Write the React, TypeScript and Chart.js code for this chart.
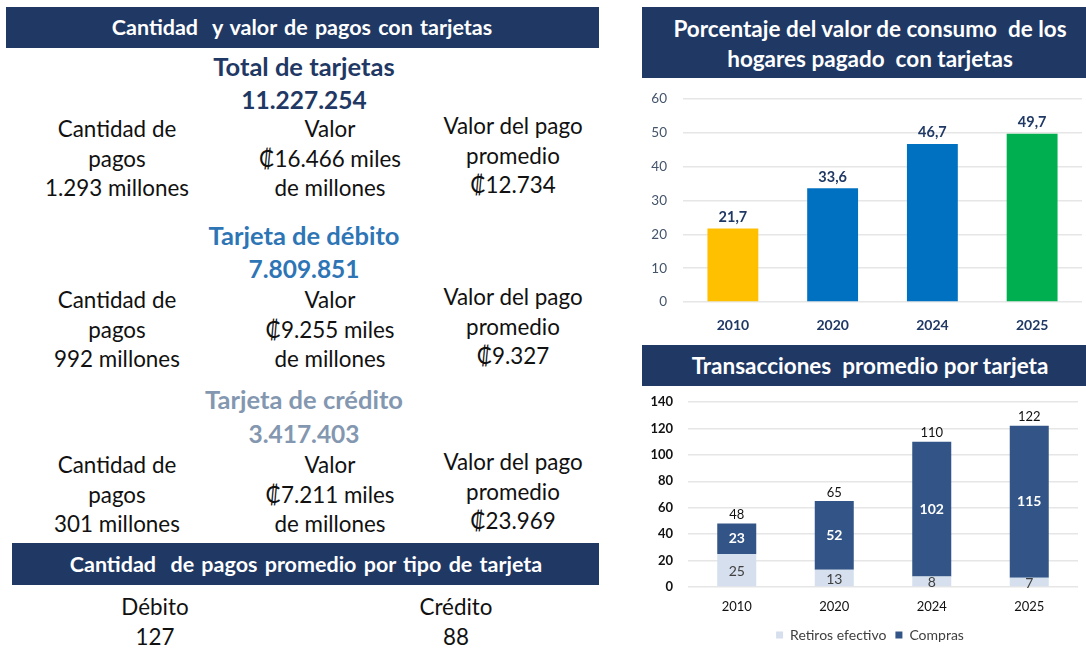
import React, { useEffect, useRef } from 'react';
import { Chart, registerables } from 'chart.js';
Chart.register(...registerables);

// ---------- Data ----------
const years = ['2010', '2020', '2024', '2025'];
const pctValues = [21.7, 33.6, 46.7, 49.7];
const pctColors = ['#FFC000', '#0070C0', '#0070C0', '#00B050'];
const retiros = [25, 13, 8, 7];
const compras = [23, 52, 102, 115];
const totals = [48, 65, 110, 122];

const sectionTitles = ['Total de tarjetas', 'Tarjeta de débito', 'Tarjeta de crédito'];
const sectionCounts = ['11.227.254', '7.809.851', '3.417.403'];
const sectionColors = ['#1F3864', '#2E75B6', '#8497B0'];
const sectionPagos = ['1.293 millones', '992 millones', '301 millones'];
const sectionValor = ['₡16.466 miles', '₡9.255 miles', '₡7.211 miles'];
const sectionPromedio = ['₡12.734', '₡9.327', '₡23.969'];
const tipoLabels = ['Débito', 'Crédito'];
const tipoValues = ['127', '88'];

const FONT = "Lato, 'Open Sans', 'DejaVu Sans', sans-serif";
const NAVY = '#1F3864';

// ---------- Layout helpers ----------
const sectionTitleY = [67, 236, 400];
const sectionCountY = [100, 269, 434];
const sectionRowY = [129, 300, 465];

function T(props: { x: number; y: number; text: string; size: number; bold?: boolean; color?: string; ws?: number }) {
  const lh = props.size * 1.3;
  return (
    <div
      style={{
        position: 'absolute',
        left: props.x - 300,
        width: 600,
        top: props.y - lh / 2,
        height: lh,
        lineHeight: lh + 'px',
        fontSize: props.size,
        fontWeight: props.bold ? 700 : 400,
        color: props.color || '#111',
        textAlign: 'center',
        whiteSpace: 'pre',
        wordSpacing: props.ws || 0,
        fontFamily: FONT,
      }}
    >
      {props.text}
    </div>
  );
}

function Bar(props: { left: number; top: number; width: number; height: number }) {
  return (
    <div
      style={{
        position: 'absolute',
        left: props.left,
        top: props.top,
        width: props.width,
        height: props.height,
        background: NAVY,
      }}
    />
  );
}

const labelPlugin1 = {
  id: 'labels1',
  afterDatasetsDraw(chart: any) {
    const ctx = chart.ctx;
    const meta = chart.getDatasetMeta(0);
    ctx.save();
    ctx.font = `bold 14.5px ${FONT}`;
    ctx.fillStyle = NAVY;
    ctx.textAlign = 'center';
    ctx.textBaseline = 'bottom';
    meta.data.forEach((el: any, i: number) => {
      ctx.fillText(String(pctValues[i]).replace('.', ','), el.x, el.y - 4);
    });
    ctx.restore();
  },
};

const labelPlugin2 = {
  id: 'labels2',
  afterDatasetsDraw(chart: any) {
    const ctx = chart.ctx;
    const m0 = chart.getDatasetMeta(0);
    const m1 = chart.getDatasetMeta(1);
    ctx.save();
    ctx.textAlign = 'center';
    ctx.textBaseline = 'middle';
    m0.data.forEach((el: any, i: number) => {
      ctx.font = `14px ${FONT}`;
      ctx.fillStyle = '#404040';
      ctx.fillText(String(retiros[i]), el.x, (el.y + el.base) / 2 + 1);
    });
    m1.data.forEach((el: any, i: number) => {
      ctx.font = `bold 14px ${FONT}`;
      ctx.fillStyle = '#FFFFFF';
      ctx.fillText(String(compras[i]), el.x, (el.y + el.base) / 2);
      ctx.font = `13px ${FONT}`;
      ctx.fillStyle = '#111111';
      ctx.textBaseline = 'bottom';
      ctx.fillText(String(totals[i]), el.x, el.y - 2);
      ctx.textBaseline = 'middle';
    });
    ctx.restore();
  },
};

const legendShift = {
  id: 'legendShift',
  afterLayout(chart: any) {
    const l = chart.legend;
    if (l) {
      l.left += 10;
      l.right += 10;
    }
  },
};

export default function App() {
  const c1 = useRef<HTMLCanvasElement>(null);
  const c2 = useRef<HTMLCanvasElement>(null);

  useEffect(() => {
    const ch1 = new Chart(c1.current!, {
      type: 'bar',
      data: {
        labels: years,
        datasets: [
          {
            data: pctValues,
            backgroundColor: pctColors,
            barPercentage: 0.51,
            categoryPercentage: 1,
          },
        ],
      },
      options: {
        responsive: false,
        animation: false,
        layout: { padding: { top: 14, right: 4, left: 0, bottom: 0 } },
        plugins: { legend: { display: false }, tooltip: { enabled: false } },
        scales: {
          x: {
            grid: { display: false },
            border: { display: false },
            ticks: { color: NAVY, font: { size: 14, weight: 'bold', family: FONT }, padding: 7 },
            afterFit: (s: any) => {
              s.height = 40;
            },
          },
          y: {
            min: 0,
            max: 60,
            ticks: { stepSize: 10, color: '#44546A', font: { size: 13.5, family: FONT }, padding: 3 },
            grid: { color: '#E6E6E6', drawTicks: true, tickLength: 13, tickColor: 'rgba(0,0,0,0)', lineWidth: 1.5 },
            border: { display: false },
            afterFit: (s: any) => {
              s.width = 41;
            },
          },
        },
      } as any,
      plugins: [labelPlugin1],
    });

    const ch2 = new Chart(c2.current!, {
      type: 'bar',
      data: {
        labels: years,
        datasets: [
          {
            label: 'Retiros efectivo',
            data: retiros,
            backgroundColor: '#D5DFEE',
            barPercentage: 0.4,
            categoryPercentage: 1,
            borderWidth: 0,
          },
          {
            label: 'Compras',
            data: compras,
            backgroundColor: '#325486',
            barPercentage: 0.4,
            categoryPercentage: 1,
            borderWidth: 0,
          },
        ],
      },
      options: {
        responsive: false,
        animation: false,
        layout: { padding: { top: 14, right: 8, left: 0, bottom: 0 } },
        plugins: {
          legend: {
            position: 'bottom',
            labels: { boxWidth: 7, boxHeight: 7, color: '#404040', font: { size: 14, family: FONT }, padding: 9 },
          },
          tooltip: { enabled: false },
        },
        scales: {
          x: {
            stacked: true,
            grid: { display: false },
            border: { display: false },
            ticks: { color: '#111', font: { size: 13, family: FONT }, padding: 4 },
            afterFit: (s: any) => {
              s.height = 32;
            },
          },
          y: {
            stacked: true,
            min: 0,
            max: 140,
            ticks: { stepSize: 20, color: '#111', font: { size: 13, weight: 'bold', family: FONT }, padding: 3 },
            grid: { color: '#E6E6E6', drawTicks: true, tickLength: 12, tickColor: 'rgba(0,0,0,0)', lineWidth: 1.5 },
            border: { display: false },
            afterFit: (s: any) => {
              s.width = 46;
            },
          },
        },
      } as any,
      plugins: [labelPlugin2, legendShift],
    });

    return () => {
      ch1.destroy();
      ch2.destroy();
    };
  }, []);

  const colSize = 22.4;
  return (
    <div style={{ position: 'absolute', left: 0, top: 0, width: 1086, height: 648, background: '#fff', overflow: 'hidden', fontFamily: FONT }}>
      {/* Left panel */}
      <Bar left={6} top={7} width={593} height={41} />
      <T x={302} y={28} text="Cantidad  y valor de pagos con tarjetas" size={21.5} bold color="#fff" ws={2} />
      {sectionTitles.map((t, i) => (
        <React.Fragment key={t}>
          <T x={304} y={sectionTitleY[i]} text={t} size={25.5} bold color={sectionColors[i]} />
          <T x={304} y={sectionCountY[i]} text={sectionCounts[i]} size={24.5} bold color={sectionColors[i]} />
          <T x={117} y={sectionRowY[i]} text="Cantidad de" size={colSize} />
          <T x={117} y={sectionRowY[i] + 29.5} text="pagos" size={colSize} />
          <T x={117} y={sectionRowY[i] + 59} text={sectionPagos[i]} size={colSize} />
          <T x={330} y={sectionRowY[i]} text="Valor" size={colSize} />
          <T x={330} y={sectionRowY[i] + 29.5} text={sectionValor[i]} size={colSize} />
          <T x={330} y={sectionRowY[i] + 59} text="de millones" size={colSize} />
          <T x={513} y={sectionRowY[i] - 3} text="Valor del pago" size={colSize} />
          <T x={513} y={sectionRowY[i] + 26.5} text="promedio" size={colSize} />
          <T x={513} y={sectionRowY[i] + 55.5} text={sectionPromedio[i]} size={colSize} />
        </React.Fragment>
      ))}
      <Bar left={12} top={543} width={587} height={42} />
      <T x={306} y={565} text="Cantidad  de pagos promedio por tipo de tarjeta" size={21.5} bold color="#fff" ws={2} />
      <T x={155} y={607} text={tipoLabels[0]} size={colSize} />
      <T x={155} y={637} text={tipoValues[0]} size={colSize} />
      <T x={456} y={607} text={tipoLabels[1]} size={colSize} />
      <T x={456} y={637} text={tipoValues[1]} size={colSize} />

      {/* Right panel */}
      <Bar left={642} top={7} width={444} height={71} />
      <T x={870} y={29} text="Porcentaje del valor de consumo  de los" size={22.5} bold color="#fff" />
      <T x={870} y={59} text="hogares pagado  con tarjetas" size={22.5} bold color="#fff" />
      <canvas ref={c1} width={444} height={257} style={{ position: 'absolute', left: 642, top: 85, display: 'block' }} />

      <Bar left={642} top={345} width={444} height={41} />
      <T x={870} y={366} text="Transacciones  promedio por tarjeta" size={22.5} bold color="#fff" />
      <canvas ref={c2} width={444} height={264} style={{ position: 'absolute', left: 642, top: 388, display: 'block' }} />
    </div>
  );
}
